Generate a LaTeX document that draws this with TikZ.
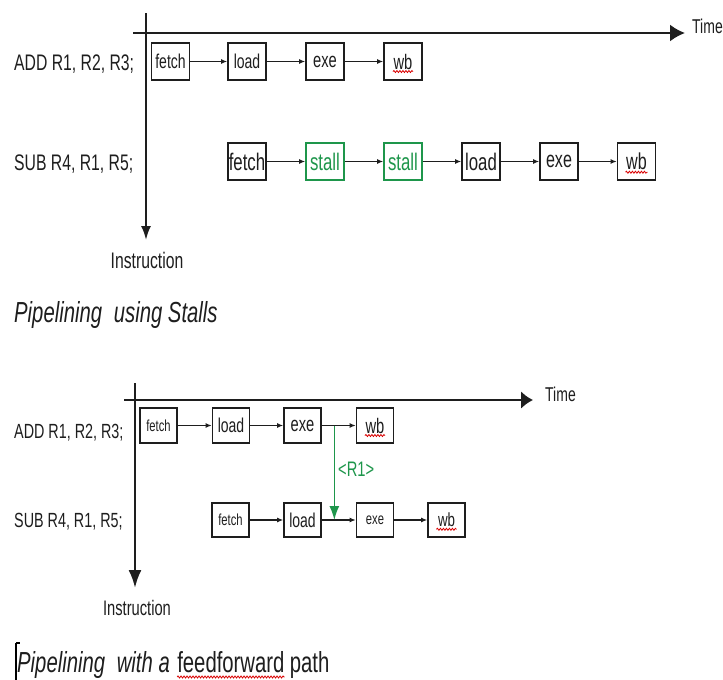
\documentclass[tikz,border=0pt]{standalone}
\usepackage{fontspec}
\setmainfont{Liberation Sans}[FakeStretch=0.7]
\usetikzlibrary{arrows.meta,calc,decorations.pathmorphing}

\definecolor{ink}{HTML}{1E1E1E}
\definecolor{stallgreen}{RGB}{30,150,75}

\tikzset{
  fs/.style={font=\fontsize{#1}{#1}\selectfont},
  stage/.style={draw=ink, line width=1.6pt, minimum width=38pt, minimum height=37pt, inner sep=0pt, text=ink},
  stagesm/.style={stage, minimum width=37pt, minimum height=35pt},
  stallbox/.style={stage, draw=stallgreen, text=stallgreen},
  flow/.style={-{Latex[length=6pt,width=5pt]}, line width=1.4pt, draw=ink},
  axis/.style={line width=2pt, draw=ink},
  lbl/.style={anchor=base west, inner sep=0pt, text=ink},
  squig/.style={draw=red!85!black, line width=0.8pt, decorate, decoration={snake, amplitude=1pt, segment length=3pt}},
}

\begin{document}
\begin{tikzpicture}[x=1pt,y=-1pt]
\useasboundingbox[fill=white] (0,0) rectangle (723,680);

% ---------- pipeline with stalls ----------
\coordinate (tA0) at (133,33);
\coordinate (tA1) at (685,33);
\coordinate (iA0) at (146,13);
\coordinate (iA1) at (146,240);
\draw[axis, -{Latex[length=15pt,width=17pt]}] (tA0) -- (tA1);
\draw[axis, -{Latex[length=14pt,width=10pt]}] (iA0) -- (iA1);
\node[lbl, fs=20] (timeA) at (692,33) {Time};
\node[lbl, fs=22.5, anchor=base] (instrA) at (147,268) {Instruction};

\node[lbl, fs=22.5] (addA) at (14,70) {ADD R1, R2, R3;};
\node[lbl, fs=22.5] (subA) at (14,170) {SUB R4, R1, R5;};

\node[stage, fs=20] (fA1) at (170.5,61.5) {fetch};
\node[stage, fs=20] (lA1) at (247,61.5) {load};
\node[stage, fs=21] (eA1) at (325,61.5) {exe};
\node[stage, fs=21] (wA1) at (403,61.5) {wb};
\draw[flow] (fA1) -- (lA1);
\draw[flow] (lA1) -- (eA1);
\draw[flow] (eA1) -- (wA1);

\node[stage, fs=24] (fA2) at (247,161.5) {fetch};
\node[stallbox, fs=24] (sA1) at (325,161.5) {stall};
\node[stallbox, fs=24] (sA2) at (403,161.5) {stall};
\node[stage, fs=24] (lA2) at (481,161.5) {load};
\node[stage, fs=23] (eA2) at (559,161.5) {exe};
\node[stage, fs=23] (wA2) at (636.5,161.5) {wb};
\draw[flow] (fA2) -- (sA1);
\draw[flow] (sA1) -- (sA2);
\draw[flow] (sA2) -- (lA2);
\draw[flow] (lA2) -- (eA2);
\draw[flow] (eA2) -- (wA2);

\draw[squig] ($(wA1.base)+(-10,2.5)$) -- ($(wA1.base)+(10,2.5)$);
\draw[squig] ($(wA2.base)+(-11,2.5)$) -- ($(wA2.base)+(11,2.5)$);

\node[lbl, fs=29] (capA) at (14,322) {\itshape Pipelining\hspace{6pt} using Stalls};

% ---------- pipeline with a feedforward path ----------
\coordinate (tB0) at (124,400);
\coordinate (tB1) at (533,400);
\coordinate (iB0) at (135,383);
\coordinate (iB1) at (135,588);
\draw[axis, line width=2.4pt, -{Latex[length=12pt,width=18pt]}] (tB0) -- (tB1);
\draw[axis, line width=2.4pt, -{Latex[length=18pt,width=13pt]}] (iB0) -- (iB1);
\node[lbl, fs=20] (timeB) at (545,401) {Time};
\node[lbl, fs=21, anchor=base] (instrB) at (137,615) {Instruction};

\node[lbl, fs=20.5] (addB) at (14,438) {ADD R1, R2, R3;};
\node[lbl, fs=20.5] (subB) at (14,527) {SUB R4, R1, R5;};

\node[stagesm, fs=16] (fB1) at (158.5,425.5) {fetch};
\node[stagesm, fs=20] (lB1) at (231,425.5) {load};
\node[stagesm, fs=21] (eB1) at (302.5,425.5) {exe};
\node[stagesm, fs=21] (wB1) at (375,425.5) {wb};
\draw[flow] (fB1) -- (lB1);
\draw[flow] (lB1) -- (eB1);
\draw[flow] (eB1) -- (wB1);

\node[stagesm, minimum height=34pt, fs=16] (fB2) at (230.5,520) {fetch};
\node[stagesm, minimum height=34pt, fs=20] (lB2) at (302.5,520) {load};
\node[stagesm, minimum height=34pt, fs=16] (eB2) at (375,520) {exe};
\node[stagesm, minimum height=34pt, fs=19] (wB2) at (446.5,520) {wb};
\draw[flow] (fB2) -- (lB2);
\draw[flow] (lB2) -- (eB2);
\draw[flow] (eB2) -- (wB2);

\draw[squig] ($(wB1.base)+(-10,2.5)$) -- ($(wB1.base)+(10,2.5)$);
\draw[squig] ($(wB2.base)+(-10,2.5)$) -- ($(wB2.base)+(10,2.5)$);

% forwarded result of ADD into the SUB execute stage
\coordinate (ffA) at ($(eB1.east)!0.37!(wB1.west)$);
\coordinate (ffB) at ($(lB2.east)!0.37!(eB2.west)$);
\draw[stallgreen, line width=1.6pt, -{Latex[length=14pt,width=10pt]}] (ffA) -- (ffB);
\node[lbl, fs=21, text=stallgreen] (r1) at (338,476) {<R1>};

\node[lbl, fs=29] (capB1) at (17,672) {\itshape Pipelining\hspace{6pt} with a};
\node[lbl, fs=29] (capB2) at ($(capB1.base east)+(7,0)$) {feedforward};
\node[lbl, fs=29] (capB3) at ($(capB2.base east)+(5,0)$) {path};
\draw[squig] ($(capB2.base west)+(0,5)$) -- ($(capB2.base east)+(0,5)$);
\draw[black, line width=1.5pt] (16,643) -- (16,680);
\draw[black, line width=1.2pt] (16,643) -- (19.5,643);

\end{tikzpicture}
\end{document}
